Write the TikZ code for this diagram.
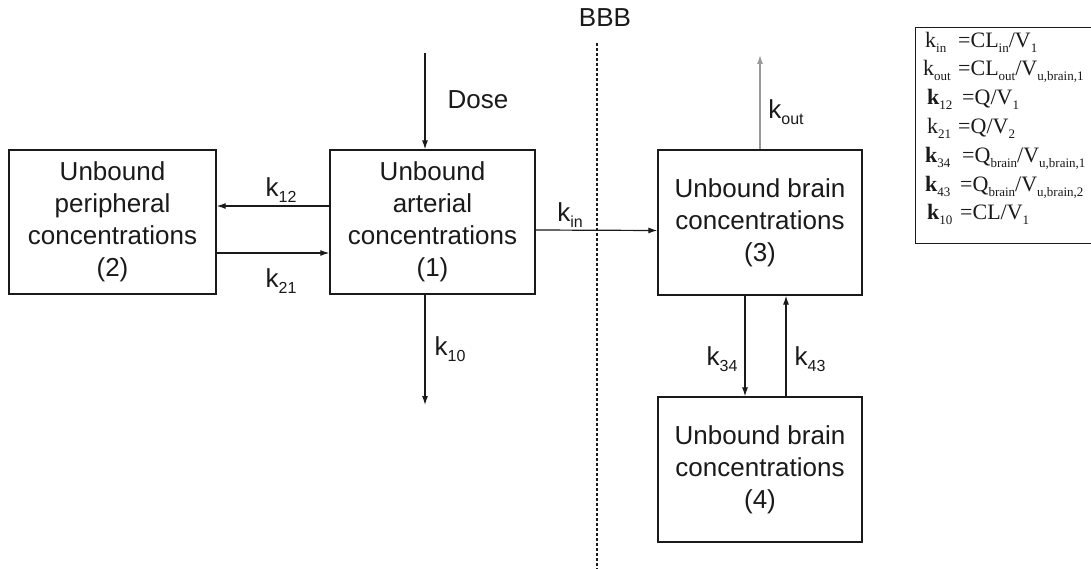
\documentclass[tikz,border=0pt]{standalone}
\usepackage{fontspec}
\setmainfont{Liberation Sans}
\newfontfamily\legfont{Liberation Serif}
\usetikzlibrary{arrows.meta}
\newcommand\ksub[1]{k\raisebox{-6pt}{\fontsize{16}{16}\selectfont #1}}
\newcommand\lsub[1]{\raisebox{-4.5pt}{\fontsize{13}{13}\selectfont #1}}
\definecolor{ink}{HTML}{1A1A1A}
\definecolor{soft}{HTML}{9A9A9A}
\begin{document}
\begin{tikzpicture}[x=1pt,y=-1pt,
  box/.style={draw=ink,line width=1.3pt,inner sep=0pt,align=center,
    font=\fontsize{26}{32}\selectfont,text=ink},
  arr/.style={draw=ink,line width=1.2pt,-{Latex[length=9pt,width=6pt]}},
  lab/.style={font=\fontsize{26}{30}\selectfont,text=ink,inner sep=0pt},
  leg/.style={font=\legfont\fontsize{22}{24}\selectfont,text=ink,inner sep=0pt,anchor=base west}]
\useasboundingbox (0,0) rectangle (1091,569);
\fill[white] (0,0) rectangle (1091,569);
% boxes
\node[box,minimum width=207pt,minimum height=144pt] (b2) at (112.5,222) {Unbound\\peripheral\\concentrations\\(2)};
\node[box,minimum width=205pt,minimum height=144pt] (b1) at (432.5,222) {Unbound\\arterial\\concentrations\\(1)};
\node[box,minimum width=204pt,minimum height=145pt] (b3) at (760,222.5) {Unbound brain\\concentrations\\(3)};
\node[box,minimum width=204pt,minimum height=145pt] (b4) at (760,469.5) {Unbound brain\\concentrations\\(4)};
% BBB line
\coordinate (bbbtop) at (597,43);
\coordinate (bbbbot) at (597,569);
\draw[ink,line width=1.1pt,dash pattern=on 3pt off 2pt] (bbbtop) -- (bbbbot);
\node[lab] (bbb) at (605,18) {BBB};
% free ends
\coordinate (dtop) at (425,53);
\coordinate (k10end) at (425,405);
\coordinate (koutend) at (760,55);
% connectors
\draw[arr] (dtop) -- (dtop |- b1.north);
\draw[arr] ([yshift=16pt]b1.west) -- ([yshift=16pt]b2.east);
\draw[arr] ([yshift=-31pt]b2.east) -- ([yshift=-31pt]b1.west);
\draw[arr] ([yshift=-8pt]b1.east) -- ([yshift=-8pt]b3.west);
\draw[arr] (k10end |- b1.south) -- (k10end);
\draw[arr,draw=soft] (b3.north) -- (koutend);
\draw[arr] ([xshift=-15pt]b3.south) -- ([xshift=-15pt]b4.north);
\draw[arr] ([xshift=26pt]b4.north) -- ([xshift=26pt]b3.south);
% labels
\node[lab] (ldose) at (478,100) {Dose};
\node[lab] (l12) at (281,190) {\ksub{12}};
\node[lab] (l21) at (281,281) {\ksub{21}};
\node[lab] (lin) at (570,215) {\ksub{in}};
\node[lab] (l10) at (450,349) {\ksub{10}};
\node[lab] (lout) at (786,112) {\ksub{out}};
\node[lab] (l34) at (722,359) {\ksub{34}};
\node[lab] (l43) at (810,359) {\ksub{43}};
% legend
\node[draw=ink,line width=1.2pt,minimum width=190pt,minimum height=216pt,anchor=north west,inner sep=0pt] (legend) at (915,27) {};
\node[leg] (r1a) at (925,48) {k\lsub{in}};
\node[leg] (r1b) at (958,48) {=CL\lsub{in}/V\lsub{1}};
\node[leg] (r2a) at (923,76) {k\lsub{out}};
\node[leg] (r2b) at (958,76) {=CL\lsub{out}/V\lsub{u,brain,1}};
\node[leg] (r3a) at (927,105) {\textbf{k}\lsub{12}};
\node[leg] (r3b) at (962,105) {=Q/V\lsub{1}};
\node[leg] (r4a) at (927,134) {k\lsub{21}};
\node[leg] (r4b) at (958,134) {=Q/V\lsub{2}};
\node[leg] (r5a) at (925,163) {\textbf{k}\lsub{34}};
\node[leg] (r5b) at (962,163) {=Q\lsub{brain}/V\lsub{u,brain,1}};
\node[leg] (r6a) at (925,192) {\textbf{k}\lsub{43}};
\node[leg] (r6b) at (960,192) {=Q\lsub{brain}/V\lsub{u,brain,2}};
\node[leg] (r7a) at (927,220) {\textbf{k}\lsub{10}};
\node[leg] (r7b) at (960,220) {=CL/V\lsub{1}};
\end{tikzpicture}
\end{document}
